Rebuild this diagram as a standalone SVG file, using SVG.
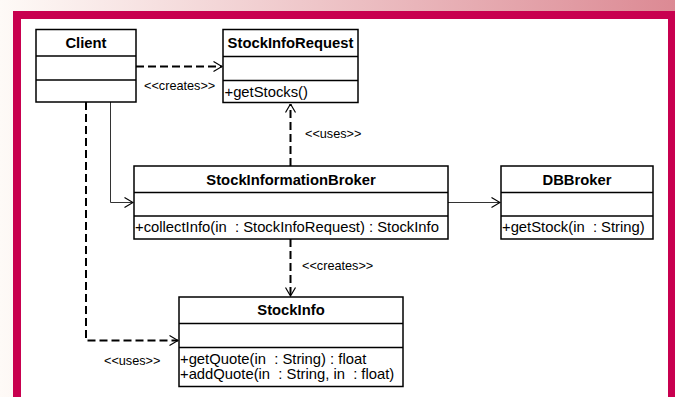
<svg xmlns="http://www.w3.org/2000/svg" width="675" height="397" viewBox="0 0 675 397">
<defs>
<linearGradient id="bg" x1="0" y1="0" x2="1" y2="0">
<stop offset="0" stop-color="#fefaf7"/>
<stop offset="1" stop-color="#dc8a94"/>
</linearGradient>
<marker id="open" viewBox="0 0 10 12" refX="9.5" refY="6" markerWidth="10" markerHeight="12" markerUnits="userSpaceOnUse" orient="auto">
<path d="M1,1 L9.5,6 L1,11" fill="none" stroke="#000" stroke-width="1.2"/>
</marker>
<style>
.box{fill:#fff;stroke:#000;stroke-width:1.5}
.sep{stroke:#000;stroke-width:1.5}
.name{font-family:"Liberation Sans",Arial,sans-serif;font-size:14.8px;font-weight:bold;text-anchor:middle;fill:#000}
.op{font-family:"Liberation Sans",Arial,sans-serif;font-size:14.8px;fill:#000;white-space:pre}
.st{font-family:"Liberation Sans",Arial,sans-serif;font-size:12.7px;fill:#000}
.dep{fill:none;stroke:#000;stroke-width:2;stroke-dasharray:8,4}
.assoc{fill:none;stroke:#333;stroke-width:1}
</style>
</defs>
<rect x="0" y="0" width="675" height="397" fill="url(#bg)"/>
<rect x="17" y="15" width="655" height="400" fill="#fff" stroke="#c8004f" stroke-width="8"/>

<g id="connectors">
<path class="dep" d="M136,66.5 H222" marker-end="url(#open)"/>
<path class="dep" d="M290.5,166 V104" marker-end="url(#open)"/>
<path class="dep" d="M290.5,239 V296" marker-end="url(#open)"/>
<path class="dep" d="M86,102 V340.5 H178" marker-end="url(#open)"/>
<path class="assoc" d="M110.5,102 V202.5 H133" marker-end="url(#open)"/>
<path class="assoc" d="M448,202.5 H500" marker-end="url(#open)"/>
<text class="st" x="144" y="89.5">&lt;&lt;creates&gt;&gt;</text>
<text class="st" x="305" y="137.5">&lt;&lt;uses&gt;&gt;</text>
<text class="st" x="302" y="269.5">&lt;&lt;creates&gt;&gt;</text>
<text class="st" x="104" y="365">&lt;&lt;uses&gt;&gt;</text>
</g>

<g id="Client">
<rect class="box" x="36" y="29.5" width="100" height="72.5"/>
<line class="sep" x1="36" y1="56" x2="136" y2="56"/>
<line class="sep" x1="36" y1="80" x2="136" y2="80"/>
<text class="name" x="86" y="47.5">Client</text>
</g>

<g id="StockInfoRequest">
<rect class="box" x="223" y="29.5" width="135" height="73"/>
<line class="sep" x1="223" y1="56.5" x2="358" y2="56.5"/>
<line class="sep" x1="223" y1="80.5" x2="358" y2="80.5"/>
<text class="name" x="290.5" y="47.5">StockInfoRequest</text>
<text class="op" x="224.5" y="96.5">+getStocks()</text>
</g>

<g id="StockInformationBroker">
<rect class="box" x="134" y="166" width="314" height="73"/>
<line class="sep" x1="134" y1="192.5" x2="448" y2="192.5"/>
<line class="sep" x1="134" y1="216" x2="448" y2="216"/>
<text class="name" x="291" y="184.5">StockInformationBroker</text>
<text class="op" x="135" y="232" xml:space="preserve">+collectInfo(in  : StockInfoRequest) : StockInfo</text>
</g>

<g id="DBBroker">
<rect class="box" x="501" y="166" width="152" height="73"/>
<line class="sep" x1="501" y1="192.5" x2="653" y2="192.5"/>
<line class="sep" x1="501" y1="216" x2="653" y2="216"/>
<text class="name" x="577" y="184.5">DBBroker</text>
<text class="op" x="502" y="232" xml:space="preserve">+getStock(in  : String)</text>
</g>

<g id="StockInfo">
<rect class="box" x="179" y="297" width="224" height="89.5"/>
<line class="sep" x1="179" y1="323.5" x2="403" y2="323.5"/>
<line class="sep" x1="179" y1="347.5" x2="403" y2="347.5"/>
<text class="name" x="291" y="315">StockInfo</text>
<text class="op" x="180" y="364" xml:space="preserve">+getQuote(in  : String) : float</text>
<text class="op" x="180" y="379" xml:space="preserve">+addQuote(in  : String, in  : float)</text>
</g>
</svg>
